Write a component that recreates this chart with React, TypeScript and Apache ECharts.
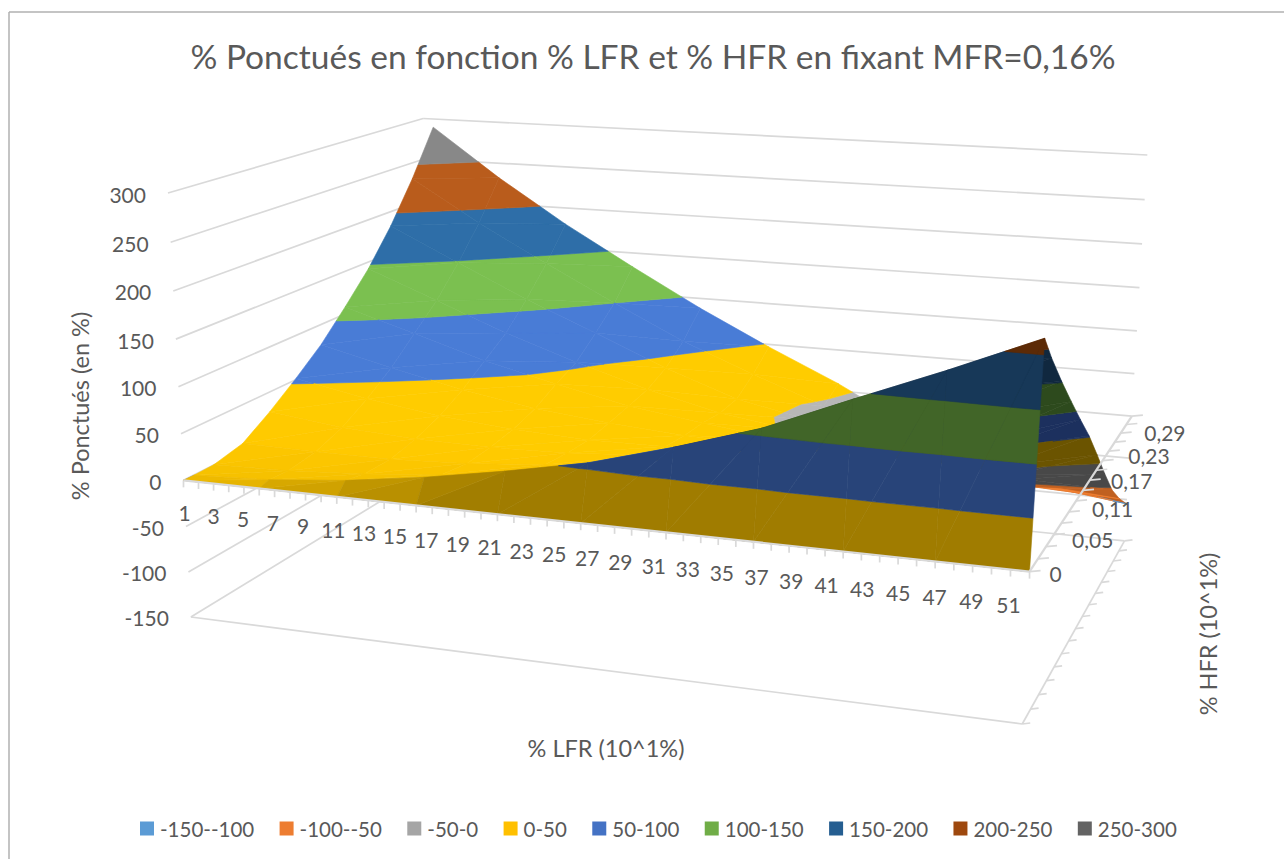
import React, { useEffect, useRef } from "react";
import * as echarts from "echarts";

const titleText = "% Ponctués en fonction % LFR et % HFR en fixant MFR=0,16%";
const zTicks = [-150, -100, -50, 0, 50, 100, 150, 200, 250, 300];
const lfrLabels = [1, 3, 5, 7, 9, 11, 13, 15, 17, 19, 21, 23, 25, 27, 29, 31, 33, 35, 37, 39, 41, 43, 45, 47, 49, 51];
const hfrLabels = ["0", "0,05", "0,11", "0,17", "0,23", "0,29"];
const hfrLabelSteps = [0, 6, 12, 18, 24, 30];
const hfrLabelNudge = [0, 12, 9, 7, 5, 3];
const bandNames = ["-150--100", "-100--50", "-50-0", "0-50", "50-100", "100-150", "150-200", "200-250", "250-300"];
const legendColors = ["#5b9bd5", "#ed7d31", "#a5a5a5", "#ffc000", "#4472c4", "#70ad47", "#255e91", "#9e480e", "#636363"];
const litColors = ["#5b9bd5", "#ed7d31", "#b3b3b3", "#ffc800", "#487ad2", "#79bc4e", "#2d6ca5", "#b55a1b", "#858585"];
const stripColors = ["#3a5f82", "#9a4f1f", "#555555", "#a07c00", "#284479", "#416528", "#173858", "#5c2a06", "#444444"];
const underColors = ["#2c4a66", "#c06020", "#484848", "#6b5400", "#1c305e", "#2d4a1d", "#10283f", "#5c2a06", "#333333"];

// Surface: one list per HFR step, across the LFR columns.
const lfrColumns = [1, 6, 11, 16, 21, 26, 31, 36, 41, 46, 51];
const hfrSteps = [0, 1, 3, 6, 9, 12, 15, 18, 21, 24, 27, 30];
const hfrStep0 = [0, 0, 0, 0, 0, 0, 0, 0, 0, 0, 0];
const hfrStep1 = [0, 4, 12, 24, 39, 56, 80, 107, 143, 178, 215];
const hfrStep3 = [1, 3, 8, 16, 26, 41, 61, 85, 116, 149, 188];
const hfrStep6 = [9, 8, 8, 12, 19, 29, 47, 66, 90, 108, 152];
const hfrStep9 = [30, 20, 15, 14, 16, 22, 33, 48, 66, 70, 118];
const hfrStep12 = [54, 38, 26, 19, 15, 16, 23, 30, 40, 45, 85];
const hfrStep15 = [80, 60, 42, 28, 19, 13, 10, 10, 10, 12, 53];
const hfrStep18 = [112, 87, 62, 42, 24, 12, 2, -4, -8, -14, 17];
const hfrStep21 = [146, 114, 82, 54, 29, 9, -3, -12, -22, -35, -20];
const hfrStep24 = [187, 148, 110, 76, 41, 11, -6, -20, -42, -60, -55];
const hfrStep27 = [235, 186, 142, 100, 60, 27, -4, -27, -60, -75, -82];
const hfrStep30 = [290, 232, 180, 133, 88, 47, 9, -35, -75, -92, -105];
const surfaceRows = [hfrStep0, hfrStep1, hfrStep3, hfrStep6, hfrStep9, hfrStep12, hfrStep15, hfrStep18, hfrStep21, hfrStep24, hfrStep27, hfrStep30];

// Camera calibration: box corners [u, v, z] to the pixel where the picture has them.
const calibration: number[][] = [
  [0, 0, 300, 168, 194], [0, 0, 150, 176, 339], [0, 0, 0, 183, 480], [0, 0, -150, 191, 617],
  [0, 1, 300, 423, 118], [0, 1, -150, 432, 470],
  [1, 0, 0, 1030, 570], [1, 0, -150, 1022, 725],
  [1, 1, 300, 1147, 155], [1, 1, 150, 1140, 288], [1, 1, 0, 1132, 416], [1, 1, -150, 1124, 541],
];

const normZ = (z: number) => (z + 150) / 450;

function solveCamera(): number[] {
  const n = 11;
  const A = Array.from({ length: n }, () => new Array(n + 1).fill(0));
  const add = (row: number[], rhs: number) => {
    for (let i = 0; i < n; i++) {
      for (let k = 0; k < n; k++) A[i][k] += row[i] * row[k];
      A[i][n] += row[i] * rhs;
    }
  };
  for (const [u, v, z, px, py] of calibration) {
    const w = normZ(z), x = px / 1000, y = py / 1000;
    add([u, v, w, 1, 0, 0, 0, 0, -x * u, -x * v, -x * w], x);
    add([0, 0, 0, 0, u, v, w, 1, -y * u, -y * v, -y * w], y);
  }
  for (let c = 0; c < n; c++) {
    let p = c;
    for (let r = c + 1; r < n; r++) if (Math.abs(A[r][c]) > Math.abs(A[p][c])) p = r;
    [A[c], A[p]] = [A[p], A[c]];
    for (let r = 0; r < n; r++) {
      if (r === c) continue;
      const f = A[r][c] / A[c][c];
      for (let k = c; k <= n; k++) A[r][k] -= f * A[c][k];
    }
  }
  return A.map((r, i) => r[n] / r[i]);
}
const P = solveCamera();
const depth = (u: number, v: number, z: number) => P[8] * u + P[9] * v + P[10] * normZ(z) + 1;
function project(u: number, v: number, z: number): [number, number] {
  const w = normZ(z);
  const d = depth(u, v, z);
  return [
    ((P[0] * u + P[1] * v + P[2] * w + P[3]) / d) * 1000,
    ((P[4] * u + P[5] * v + P[6] * w + P[7]) / d) * 1000,
  ];
}
// The sheet stands a little inside the back-left corner of the box.
const surfaceProject = (u: number, v: number, z: number) => project(u + 0.015 * v * (1 - u), v, z);

const rgbOf = (hex: string) => {
  const n = parseInt(hex.slice(1), 16);
  return [(n >> 16) & 255, (n >> 8) & 255, n & 255];
};
const css = (c: number[]) => `rgb(${c.map((x) => Math.min(255, Math.round(x))).join(",")})`;
const shade = (hex: string, f: number) => css(rgbOf(hex).map((x) => x * f));
const mix = (a: string, b: string, m: number) => {
  const A = rgbOf(a), B = rgbOf(b);
  return css(A.map((x, i) => x + (B[i] - x) * m));
};

type V3 = [number, number, number];
function clipBand(tri: V3[], lo: number, hi: number): V3[] {
  const cut = (pts: V3[], keep: (p: V3) => boolean, level: number) => {
    const out: V3[] = [];
    pts.forEach((a, i) => {
      const b = pts[(i + 1) % pts.length];
      const ka = keep(a), kb = keep(b);
      if (ka) out.push(a);
      if (ka !== kb) {
        const t = (level - a[2]) / (b[2] - a[2]);
        out.push([a[0] + (b[0] - a[0]) * t, a[1] + (b[1] - a[1]) * t, level]);
      }
    });
    return out;
  };
  const low = cut(tri, (p) => p[2] >= lo, lo);
  return low.length ? cut(low, (p) => p[2] <= hi, hi) : low;
}
const area = (a: number[], b: number[], c: number[]) => (b[0] - a[0]) * (c[1] - a[1]) - (b[1] - a[1]) * (c[0] - a[0]);
const floorSign = Math.sign(area(project(0, 0, 0), project(1, 0, 0), project(0, 1, 0)));

type Poly = { pts: [number, number][]; color: string };
function buildSurface(): Poly[] {
  const cells: { d: number; polys: Poly[] }[] = [];
  const us = lfrColumns.map((l) => (l - 1) / 50);
  const vs = hfrSteps.map((j) => j / 30);
  for (let r = 0; r < vs.length - 1; r++) {
    for (let c = 0; c < us.length - 1; c++) {
      const a: V3 = [us[c], vs[r], surfaceRows[r][c]];
      const b: V3 = [us[c + 1], vs[r], surfaceRows[r][c + 1]];
      const e: V3 = [us[c + 1], vs[r + 1], surfaceRows[r + 1][c + 1]];
      const f: V3 = [us[c], vs[r + 1], surfaceRows[r + 1][c]];
      const polys: Poly[] = [];
      for (const tri of [[a, b, e], [a, e, f]] as V3[][]) {
        const [p0, p1, p2] = tri.map((p) => surfaceProject(p[0], p[1], p[2]));
        const flipped = Math.sign(area(p0, p1, p2)) !== floorSign;
        const uMid = (tri[0][0] + tri[1][0] + tri[2][0]) / 3;
        bandNames.forEach((_, k) => {
          const poly = clipBand(tri, zTicks[k], zTicks[k + 1]);
          if (poly.length < 3) return;
          const vMid = (tri[0][1] + tri[1][1] + tri[2][1]) / 3;
          const color = r === 0
            ? mix(litColors[k], stripColors[k], Math.min(1, 0.1 + 2.4 * uMid))
            : flipped && us[c] > 0.5
              ? underColors[k]
              : shade(litColors[k], 0.95 + 0.07 * Math.min(1, vMid / 0.3));
          polys.push({ pts: poly.map((p) => surfaceProject(p[0], p[1], p[2])), color });
        });
      }
      cells.push({ d: depth((us[c] + us[c + 1]) / 2, (vs[r] + vs[r + 1]) / 2, 0), polys });
    }
  }
  cells.sort((x, y) => y.d - x.d);
  return cells.flatMap((c) => c.polys);
}
const surfacePolys = buildSurface();

type Seg = { a: number[]; b: number[]; color: string; width: number };
const gridColor = "#d9d9d9";
const seg = (a: number[], b: number[], width = 1.7, color = gridColor): Seg => ({ a, b, color, width });
const backLines: Seg[] = [
  seg([9, 12], [9, 859], 1.5, "#b0b0b0"),
  seg([9, 12], [1284, 12], 1.5, "#b0b0b0"),
  ...zTicks.flatMap((z) => [seg(project(0, 0, z), project(0, 1, z)), seg(project(0, 1, z), project(1, 1, z))]),
  seg(project(0, 0, -150), project(1, 0, -150)),
  seg(project(1, 0, -150), project(1, 1, -150)),
];
const frontLines: Seg[] = [
  seg(project(0, 0, 0), project(1, 0, 0), 2.2),
  seg(project(1, 0, 0), project(1, 1, 0), 2.2),
];
for (let i = 0; i <= 50; i++) {
  const p = project(i / 50, 0, 0);
  frontLines.push(seg(p, [p[0], p[1] + 7]));
}
for (let j = 0; j <= 30; j += 2) {
  const p = project(1, j / 30, 0);
  frontLines.push(seg(p, [p[0] + 11, p[1] - 1]));
  const q = project(1, j / 30, -150);
  backLines.push(seg(q, [q[0] + 8, q[1] - 1]));
}

const tc = "#595959";
type Lab = { x: number; y: number; text: string; size: number; rot?: number; align?: string };
const TICK = 21, AXIS = 23.5;
const labels: Lab[] = [
  ...zTicks.map((z) => {
    const p = project(0, 0, z);
    return { x: p[0] - 22, y: p[1] + 1, text: String(z), size: TICK, align: "right" };
  }),
  ...lfrLabels.map((l) => {
    const t = (l - 1) / 50;
    const p = project(t, 0, 0);
    return { x: p[0] + 1 - 22 * t, y: p[1] + 32 + t, text: String(l), size: TICK };
  }),
  ...hfrLabels.map((s, i) => {
    const t = hfrLabelSteps[i] / 30;
    const p = project(1, t, 0);
    return { x: p[0] + 26 + 4 * t + hfrLabelNudge[i], y: p[1] + 2 + 14 * t, text: s, size: TICK };
  }),
  { x: 80, y: 406, text: "% Ponctués (en %)", size: AXIS, rot: Math.PI / 2 },
  { x: 606, y: 748, text: "% LFR (10^1%)", size: AXIS },
  { x: 1208, y: 634, text: "% HFR (10^1%)", size: AXIS, rot: Math.PI / 2 },
];

const FONT = "Lato";

export default function App() {
  const ref = useRef<HTMLDivElement>(null);
  useEffect(() => {
    const chart = echarts.init(ref.current!, null, { renderer: "svg" });
    const lineSeries = (name: string, list: Seg[]) => ({
      type: "custom", name, silent: true, clip: false, coordinateSystem: "cartesian2d",
      data: list.map((_, i) => [i]),
      renderItem: (params: any, api: any) => {
        const s = list[params.dataIndex];
        const a = api.coord(s.a), b = api.coord(s.b);
        return { type: "line", shape: { x1: a[0], y1: a[1], x2: b[0], y2: b[1] }, style: { stroke: s.color, lineWidth: s.width } };
      },
    });
    chart.setOption({
      animation: false,
      backgroundColor: "#ffffff",
      title: { text: titleText, left: 648, top: 34, textAlign: "center", textStyle: { fontFamily: FONT, fontSize: 33.5, fontWeight: 400, color: tc } },
      grid: { left: 0, right: 0, top: 0, bottom: 0 },
      xAxis: { type: "value", min: 0, max: 1284, show: false },
      yAxis: { type: "value", min: 0, max: 859, inverse: true, show: false },
      legend: {
        data: bandNames, left: 140, top: 818, padding: 0, icon: "rect", itemWidth: 14, itemHeight: 14, itemGap: 25.4, selectedMode: false,
        textStyle: { fontFamily: FONT, fontSize: 20.5, color: tc, padding: [0, 0, 0, 1] },
      },
      series: [
        lineSeries("grille", backLines),
        {
          type: "custom", name: "surface", silent: true, clip: false, coordinateSystem: "cartesian2d",
          data: surfacePolys.map((_, i) => [i]),
          renderItem: (params: any, api: any) => {
            const p = surfacePolys[params.dataIndex];
            return { type: "polygon", shape: { points: p.pts.map((q) => api.coord(q)) }, style: { fill: p.color, stroke: p.color, lineWidth: 0.6 } };
          },
        },
        lineSeries("axes", frontLines),
        {
          type: "custom", name: "textes", silent: true, clip: false, coordinateSystem: "cartesian2d",
          data: labels.map((_, i) => [i]),
          renderItem: (params: any, api: any) => {
            const l = labels[params.dataIndex];
            const c = api.coord([l.x, l.y]);
            return {
              type: "text", x: c[0], y: c[1], rotation: l.rot || 0,
              style: { text: l.text, fontFamily: FONT, fontSize: l.size, fill: tc, align: l.align || "center", verticalAlign: "middle" },
            };
          },
        },
        ...bandNames.map((name, i) => ({
          type: "custom", name, coordinateSystem: "cartesian2d", data: [], renderItem: () => null,
          itemStyle: { color: legendColors[i] },
        })),
      ],
    });
    return () => chart.dispose();
  }, []);
  return <div ref={ref} style={{ position: "fixed", left: 0, top: 0, width: 1284, height: 859 }} />;
}
